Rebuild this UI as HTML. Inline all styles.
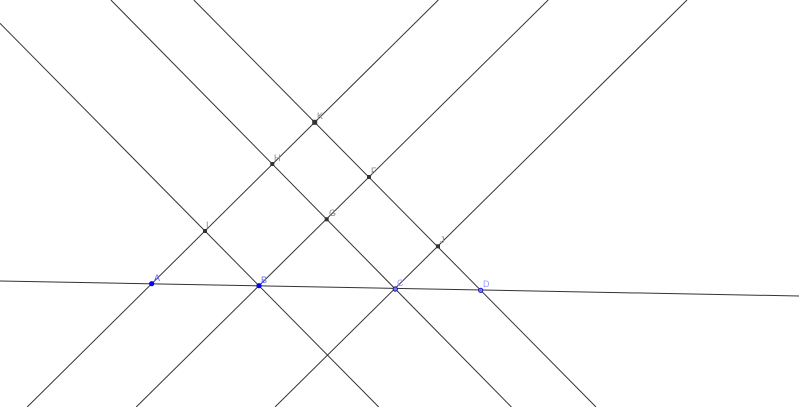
<!DOCTYPE html>
<html><head><meta charset="utf-8"><style>
html,body{margin:0;padding:0;background:#fff;}
svg{display:block;}
text{font-family:"Liberation Sans",sans-serif;font-size:9px;}
</style></head><body>
<svg width="799" height="407" viewBox="0 0 799 407" xmlns="http://www.w3.org/2000/svg">
<g stroke="#333" stroke-width="1" fill="none">
<line x1="0" y1="23.3" x2="378.7" y2="407"/>
<line x1="110.9" y1="0" x2="511.4" y2="407"/>
<line x1="193.8" y1="0" x2="596" y2="407"/>
<line x1="438.3" y1="0" x2="27.2" y2="407"/>
<line x1="548.2" y1="0" x2="136.2" y2="407"/>
<line x1="687" y1="0" x2="275" y2="407"/>
<line x1="0" y1="281" x2="799" y2="296"/>
</g>
<g fill="#333">
<rect x="312.2" y="119.8" width="5" height="5"/>
<rect x="270.3" y="162" width="4" height="4"/>
<rect x="367" y="175" width="4" height="4"/>
<rect x="324.7" y="217.3" width="4" height="4"/>
<rect x="203" y="229" width="4" height="4"/>
<rect x="436" y="244.3" width="4" height="4"/>
</g>
<g stroke="#00c" stroke-width="0.8">
<circle cx="151.7" cy="283.7" r="2.2" fill="#0000ff"/>
<circle cx="259" cy="285.7" r="2.2" fill="#0000ff"/>
<circle cx="395.3" cy="289" r="2.2" fill="#7777ee"/>
<circle cx="480.7" cy="290.3" r="2.2" fill="#7777ee"/>
</g>
<g fill="#888">
<text x="317" y="119">K</text>
<text x="274" y="161">H</text>
<text x="371" y="174">F</text>
<text x="329" y="216">G</text>
<text x="206" y="228">I</text>
<text x="440" y="243">J</text>
</g>
<g fill="#6666ff">
<text x="154" y="281">A</text>
<text x="261" y="283">B</text>
<text x="397" y="286" fill="#9999ff">C</text>
<text x="483" y="287" fill="#9999ff">D</text>
</g>
</svg>
</body></html>
